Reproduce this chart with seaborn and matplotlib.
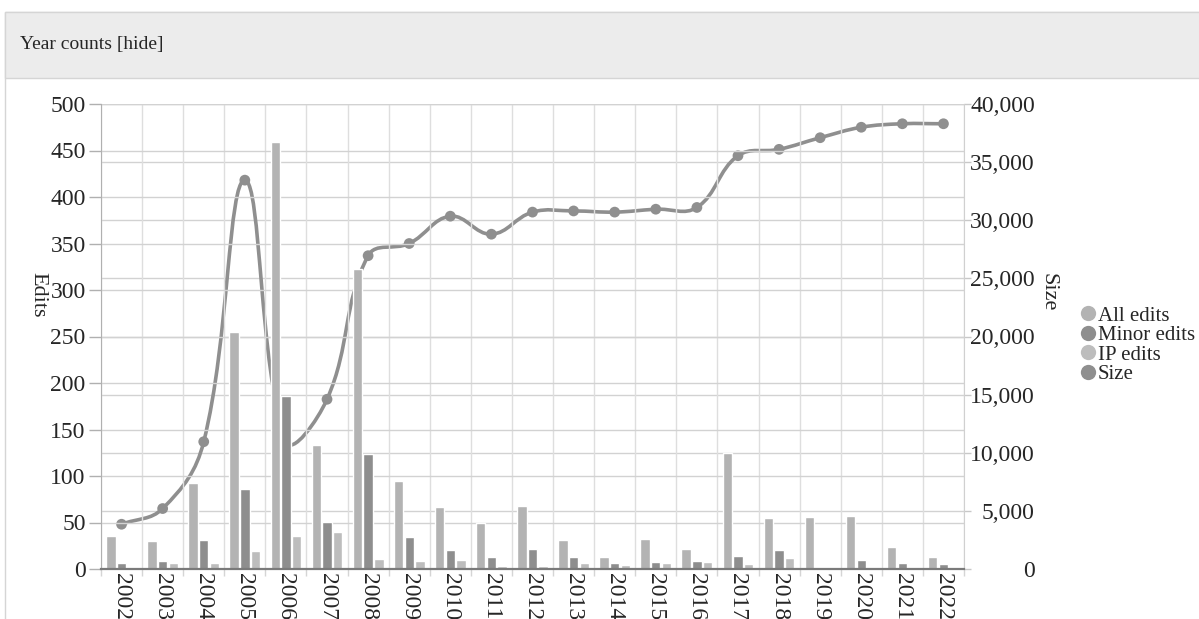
import numpy as np
import pandas as pd
import seaborn as sns
import matplotlib.pyplot as plt
from matplotlib.path import Path
from matplotlib.patches import PathPatch, Rectangle
from matplotlib.lines import Line2D
from matplotlib.ticker import FuncFormatter, MultipleLocator

# values
years = [str(y) for y in range(2002, 2023)]
all_edits = [36, 30, 92, 255, 459, 133, 323, 95, 67, 50, 68, 31, 13, 32, 21, 125, 55, 56, 57, 24, 13]
minor_edits = [6, 9, 31, 86, 186, 51, 124, 34, 20, 13, 21, 13, 6, 7, 9, 14, 20, 1, 10, 6, 5]
ip_edits = [1, 6, 6, 19, 36, 40, 11, 9, 10, 3, 3, 6, 4, 6, 7, 5, 12, 0, 0, 0, 0]
size = [3850, 5200, 10950, 33450, 11000, 14600, 26950, 28000, 30350, 28800, 30700,
        30800, 30700, 30950, 31100, 35550, 36100, 37100, 38000, 38300, 38300]

series_names = ['All edits', 'Minor edits', 'IP edits']
bar_colors = ['#b3b3b3', '#8e8e8e', '#bdbdbd']
line_color = '#8f8f8f'

df = pd.DataFrame({
    'year': years * 3,
    'edits': all_edits + minor_edits + ip_edits,
    'series': [s for s in series_names for _ in years],
})

sns.set_style('white')
plt.rcParams['font.family'] = ['Liberation Serif', 'DejaVu Serif']

W, H = 1199, 619
fig = plt.figure(figsize=(W / 100, H / 100), dpi=100)

# panel + header box
fig.patches.append(Rectangle((5 / W, -0.1), 1.0, 1.1 - 12 / H, transform=fig.transFigure,
                             facecolor='white', edgecolor='#d5d5d5', lw=1, zorder=-10))
fig.patches.append(Rectangle((5 / W, 1 - 78 / H), 1.0, 66 / H, transform=fig.transFigure,
                             facecolor='#ececec', edgecolor='#d5d5d5', lw=1, zorder=-9))
fig.text(20 / W, 1 - 45 / H, 'Year counts [hide]', fontsize=14, va='center', ha='left')

ax = fig.add_axes([101 / W, 50 / H, 863 / W, 465 / H])
ax2 = ax.twinx()
# bars above the size line
ax.set_zorder(ax2.get_zorder() + 1)
ax.patch.set_visible(False)

sns.barplot(data=df, x='year', y='edits', hue='series', hue_order=series_names,
            palette=bar_colors, width=0.78, gap=0.12, saturation=1, legend=False, ax=ax)


def spline_path(xs, ys, sx, sy, tension=0.4):
    px = np.asarray(xs, float) * sx
    py = np.asarray(ys, float) * sy
    n = len(px)
    prev_cp, next_cp = [], []
    for i in range(n):
        a, b = max(i - 1, 0), min(i + 1, n - 1)
        d01 = np.hypot(px[i] - px[a], py[i] - py[a])
        d12 = np.hypot(px[b] - px[i], py[b] - py[i])
        tot = d01 + d12 if d01 + d12 > 0 else 1
        fa, fb = tension * d01 / tot, tension * d12 / tot
        dx, dy = px[b] - px[a], py[b] - py[a]
        prev_cp.append((px[i] - fa * dx, py[i] - fa * dy))
        next_cp.append((px[i] + fb * dx, py[i] + fb * dy))
    verts = [(xs[0], ys[0])]
    codes = [Path.MOVETO]
    for i in range(n - 1):
        verts += [(next_cp[i][0] / sx, next_cp[i][1] / sy),
                  (prev_cp[i + 1][0] / sx, prev_cp[i + 1][1] / sy),
                  (xs[i + 1], ys[i + 1])]
        codes += [Path.CURVE4] * 3
    return Path(verts, codes)


xpos = np.arange(len(years))
ax2.add_patch(PathPatch(spline_path(xpos, size, 41.1, 465 / 40000), facecolor='none',
                        edgecolor=line_color, lw=2.6, zorder=2))
sns.scatterplot(x=xpos, y=size, ax=ax2, color=line_color, s=60, edgecolor='none', zorder=3)

ax.set_xlim(-0.5, len(years) - 0.5)
ax.set_ylim(0, 500)
ax2.set_ylim(0, 40000)

# grids
ax.yaxis.set_major_locator(MultipleLocator(50))
ax2.yaxis.set_major_locator(MultipleLocator(5000))
ax.set_xticks(np.arange(-0.5, len(years), 1), minor=True)
ax.grid(False)
ax.grid(which='minor', axis='x', color='#dedede', lw=1)
ax.grid(which='major', axis='y', color='#d2d2d2', lw=1)
ax.set_axisbelow(True)
ax2.grid(axis='y', color='#d2d2d2', lw=1)
ax2.grid(axis='x', visible=False)

# ticks
ax.tick_params(axis='y', which='major', left=True, length=9, width=1, color='#b0b0b0',
               labelsize=17, pad=2)
ax.tick_params(axis='x', which='major', length=0, labelsize=17, pad=3)
ax.tick_params(axis='x', which='minor', bottom=True, length=5, width=1, color='#d5d5d5')
for lab in ax.get_xticklabels():
    lab.set_rotation(-90)
    lab.set_ha('center')
    lab.set_va('top')

ax2.yaxis.set_major_formatter(FuncFormatter(lambda v, p: f'{int(v):,}'))
ax2.tick_params(axis='y', right=True, length=5, width=1, color='#c8c8c8',
                labelsize=17, pad=46)
for lab in ax2.get_yticklabels():
    lab.set_ha('right')

ax.set_xlabel('')
ax.set_ylabel('Edits', rotation=270, fontsize=16, va='center', ha='center')
ax.yaxis.set_label_coords((38 - 101) / 863, (569 - 295) / 465)
ax2.set_ylabel('Size', rotation=270, fontsize=16, va='center', ha='center')
ax2.yaxis.set_label_coords((1048 - 101) / 863, (569 - 292) / 465)

for s in ['top', 'right']:
    ax.spines[s].set_visible(False)
ax.spines['left'].set_color('#b0b0b0')
ax.spines['bottom'].set_color('#7a7a7a')
ax.spines['bottom'].set_linewidth(1.6)
for s in ['top', 'left', 'bottom']:
    ax2.spines[s].set_visible(False)
ax2.spines['right'].set_color('#d0d0d0')

handles = [Line2D([], [], ls='', marker='o', markersize=11, color=c, markeredgewidth=0)
           for c in bar_colors + [line_color]]
fig.legend(handles, series_names + ['Size'], loc='upper left',
           bbox_to_anchor=(1075 / W, 1 - 306 / H), frameon=False, fontsize=15,
           handletextpad=-0.1, labelspacing=0.0, handlelength=1.2, borderaxespad=0,
           borderpad=0)

fig.savefig('out.png', dpi=100)
